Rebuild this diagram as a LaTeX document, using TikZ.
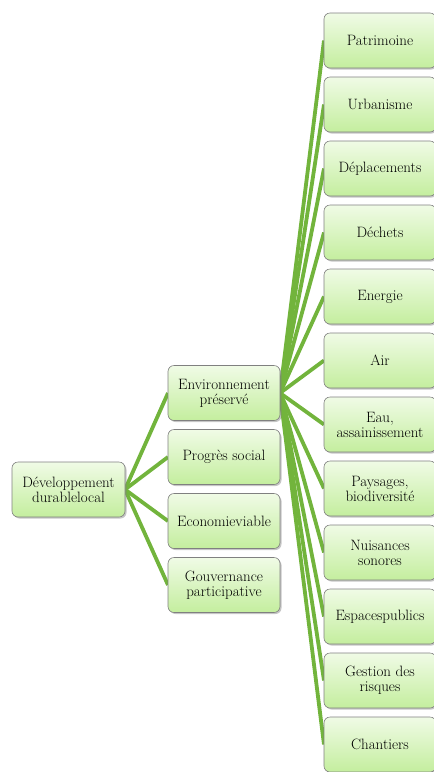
\documentclass[tikz,border=0pt]{standalone}
\usepackage{tikz}
\usetikzlibrary{positioning,backgrounds,shadows}

\definecolor{branch}{HTML}{72B43C}
\definecolor{boxtop}{HTML}{F0FBE6}
\definecolor{boxbottom}{HTML}{C4EE9E}

\begin{document}
\begin{tikzpicture}[x=1pt, y=1pt, node distance=9pt]
\tikzstyle{topic}=[rectangle,
                   draw=gray,
                   top color=boxtop,
                   bottom color=boxbottom,
                   rounded corners=6pt,
                   minimum width=112pt,
                   minimum height=55pt,
                   inner sep=2pt,
                   outer sep=0pt,
                   align=center,
                   font=\fontsize{15}{15}\selectfont,
                   drop shadow={shadow xshift=1.5pt, shadow yshift=-1.5pt, opacity=0.45},
                   semithick]
\tikzstyle{link}=[draw=branch, line width=3.8pt]

\useasboundingbox (0,0) rectangle (434,-772);
\clip (0,0) rectangle (434,-772);

% root
\node[topic, minimum width=113pt] (root) at (68.5,-489.5)
  {D\'eveloppement\\durablelocal};

% second level
\node[topic] (env) at (224,-393) {Environnement\\pr\'eserv\'e};
\node[topic, below=of env] (social) {Progr\`es social};
\node[topic, below=of social] (eco) {Economieviable};
\node[topic, below=of eco] (gouv) {Gouvernance\\participative};

% third level
\node[topic] (patrimoine) at (380,-40.5) {Patrimoine};
\node[topic, below=of patrimoine] (urbanisme) {Urbanisme};
\node[topic, below=of urbanisme] (deplacements) {D\'eplacements};
\node[topic, below=of deplacements] (dechets) {D\'echets};
\node[topic, below=of dechets] (energie) {Energie};
\node[topic, below=of energie] (air) {Air};
\node[topic, below=of air] (eau) {Eau,\\assainissement};
\node[topic, below=of eau] (paysages) {Paysages,\\biodiversit\'e};
\node[topic, below=of paysages] (nuisances) {Nuisances\\sonores};
\node[topic, below=of nuisances] (espaces) {Espacespublics};
\node[topic, below=of espaces] (risques) {Gestion des\\risques};
\node[topic, below=of risques] (chantiers) {Chantiers};

\begin{pgfonlayer}{background}
\foreach \n in {env,social,eco,gouv}
  \path[link] (root.east) -- (\n.west);
\foreach \n in {patrimoine,urbanisme,deplacements,dechets,energie,air,
                eau,paysages,nuisances,espaces,risques,chantiers}
  \path[link] (env.east) -- (\n.west);
\end{pgfonlayer}
\end{tikzpicture}
\end{document}
